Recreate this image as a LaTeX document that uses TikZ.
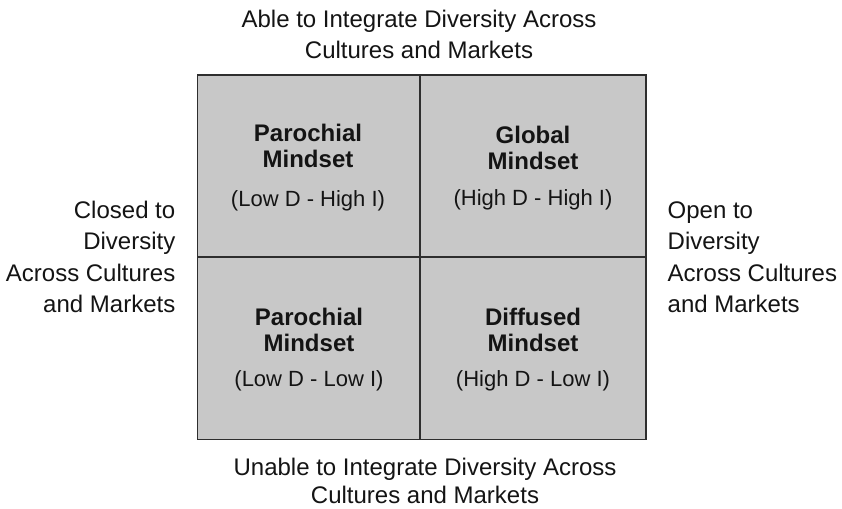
\documentclass[tikz,border=0pt]{standalone}
\usepackage{fontspec}
\setmainfont{Liberation Sans}
\definecolor{cellfill}{HTML}{C8C8C8}
\definecolor{cellline}{HTML}{2E2E2E}
\definecolor{txt}{HTML}{141414}
\tikzset{
  cellbox/.style={rectangle, draw=cellline, fill=cellfill, line width=1.4pt, inner sep=0pt},
  titletext/.style={anchor=base, align=center, text=txt, inner sep=0pt, font=\fontsize{24}{25.5}\selectfont\bfseries},
  subtext/.style={anchor=base, align=center, text=txt, inner sep=0pt, font=\fontsize{22}{26}\selectfont},
  outertext/.style={anchor=base, text=txt, inner sep=0pt, font=\fontsize{24}{31.5}\selectfont}
}
\begin{document}
\begin{tikzpicture}[x=1pt,y=-1pt]
\useasboundingbox (0,0) rectangle (842,508);
\fill[white] (0,0) rectangle (842,508);
% cells
\node[cellbox, minimum width=222.5pt, minimum height=182pt] (tl) at (308.75,166) {};
\node[cellbox, minimum width=226pt, minimum height=182pt] (tr) at (533,166) {};
\node[cellbox, minimum width=222.5pt, minimum height=182.5pt] (bl) at (308.75,348.25) {};
\node[cellbox, minimum width=226pt, minimum height=182.5pt] (br) at (533,348.25) {};
% cell texts (base = baseline of last line)
\node[titletext] (tlt) at (308,167.3) {Parochial\\Mindset};
\node[subtext] (tls) at (308,206.5) {(Low D - High I)};
\node[titletext] (trt) at (533,169.3) {Global\\Mindset};
\node[subtext] (trs) at (533,205.5) {(High D - High I)};
\node[titletext] (blt) at (309,351) {Parochial\\Mindset};
\node[subtext] (bls) at (309,386.5) {(Low D - Low I)};
\node[titletext] (brt) at (533,351) {Diffused\\Mindset};
\node[subtext] (brs) at (533,386.5) {(High D - Low I)};
% outer labels
\node[outertext, align=center, font=\fontsize{24}{31}\selectfont] (top) at (419,58.3) {Able to Integrate Diversity Across\\Cultures and Markets};
\node[outertext, align=center, font=\fontsize{24}{28.5}\selectfont] (bottom) at (425,503.5) {Unable to Integrate Diversity Across\\Cultures and Markets};
\node[outertext, align=right, anchor=base east] (left) at (175.5,312.7) {Closed to\\Diversity\\Across Cultures\\and Markets};
\node[outertext, align=left, anchor=base west] (right) at (667.5,312.7) {Open to\\Diversity\\Across Cultures\\and Markets};
\end{tikzpicture}
\end{document}
